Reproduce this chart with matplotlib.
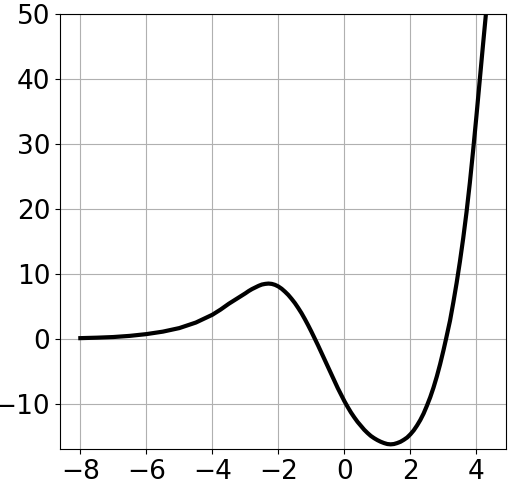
import matplotlib
matplotlib.use("Agg")
import matplotlib.pyplot as plt

# valores (x, y)
x = [-8.0, -7.5, -7.0, -6.5, -6.0, -5.5, -5.0, -4.5, -4.0, -3.75, -3.5, -3.25,
     -3.0, -2.9, -2.8, -2.7, -2.6, -2.5, -2.4, -2.3, -2.2, -2.1, -2.0, -1.9,
     -1.8, -1.7, -1.6, -1.5, -1.4, -1.3, -1.2, -1.1, -1.0, -0.9, -0.8, -0.7,
     -0.6, -0.5, -0.4, -0.3, -0.2, -0.1, 0.0, 0.1, 0.2, 0.3, 0.4, 0.5,
     0.6, 0.7, 0.8, 0.9, 1.0, 1.1, 1.2, 1.3, 1.4, 1.5, 1.6, 1.7,
     1.8, 1.9, 2.0, 2.1, 2.2, 2.3, 2.4, 2.5, 2.6, 2.7, 2.8, 2.9,
     3.0, 3.08, 3.2, 3.3, 3.4, 3.5, 3.6, 3.7, 3.8, 3.9, 4.0, 4.1,
     4.2, 4.28]
y = [0.1, 0.17, 0.27, 0.45, 0.72, 1.1, 1.65, 2.5, 3.7, 4.5, 5.4, 6.2,
     7.0, 7.35, 7.65, 7.9, 8.15, 8.35, 8.45, 8.5, 8.45, 8.3, 8.05, 7.7,
     7.25, 6.75, 6.15, 5.5, 4.75, 3.95, 3.05, 2.1, 1.1, 0.05, -1.0, -2.1,
     -3.2, -4.3, -5.4, -6.5, -7.6, -8.6, -9.6, -10.5, -11.35, -12.1, -12.8, -13.4,
     -14.0, -14.5, -14.95, -15.3, -15.6, -15.85, -16.05, -16.2, -16.25, -16.2, -16.05, -15.85,
     -15.55, -15.2, -14.7, -14.1, -13.35, -12.5, -11.5, -10.3, -9.0, -7.5, -5.8, -3.9,
     -1.8, 0.0, 2.8, 5.6, 8.6, 11.9, 15.5, 19.5, 24.0, 29.0, 34.3, 39.8,
     45.3, 49.6]

fig, ax = plt.subplots(figsize=(5.09, 4.82), dpi=100)
fig.subplots_adjust(left=0.118, right=0.994, top=0.971, bottom=0.068)

ax.plot(x, y, color="black", linewidth=3)
ax.set_ylim(-17, 50)
ax.set_xticks([-8, -6, -4, -2, 0, 2, 4])
ax.tick_params(labelsize=19)
ax.grid(True)

plt.savefig("out.png")
